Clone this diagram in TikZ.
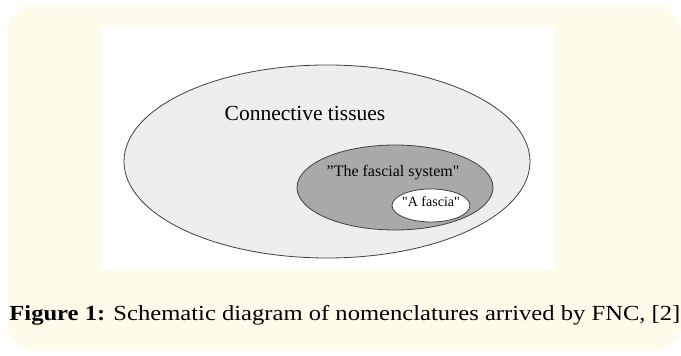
\documentclass[tikz,border=0pt]{standalone}
\usepackage{fontspec}
\setmainfont{Liberation Serif}
\definecolor{cream}{HTML}{FFFBEA}
\definecolor{tissue}{HTML}{EEEEEE}
\definecolor{fascsys}{HTML}{A9A9A9}
\begin{document}
\begin{tikzpicture}[x=1pt,y=1pt,line width=.8pt]
\useasboundingbox (0,0) rectangle (681,356);
\fill[cream,rounded corners=26pt] (7.5,5) rectangle (681,351);
\fill[white] (101,86) rectangle (555,328.5);
\coordinate (T) at (327,194.5);
\coordinate (S) at (395,168.5);
\coordinate (F) at (431,150.5);
\draw[fill=tissue,draw=black!75] (T) ellipse[x radius=203pt,y radius=96.5pt];
\draw[fill=fascsys,draw=black!75] (S) ellipse[x radius=98pt,y radius=42.5pt];
\draw[fill=white,draw=black!75] (F) ellipse[x radius=39pt,y radius=16.5pt];
\node (tissues) at (305,243) {\fontsize{21.5}{25}\selectfont Connective tissues};
\node (system) at (393,183) {\fontsize{16}{19}\selectfont ”The fascial system\textquotedbl};
\node (fascia) at (431,154) {\fontsize{14}{17}\selectfont \textquotedbl A fascia\textquotedbl};
\node[anchor=base west,inner sep=0pt] (caption) at (9,35)
  {\scalebox{1.144}[1]{\fontsize{21.5}{25}\selectfont\textbf{Figure 1:} Schematic diagram of nomenclatures arrived by FNC, [2]}};
\end{tikzpicture}
\end{document}
